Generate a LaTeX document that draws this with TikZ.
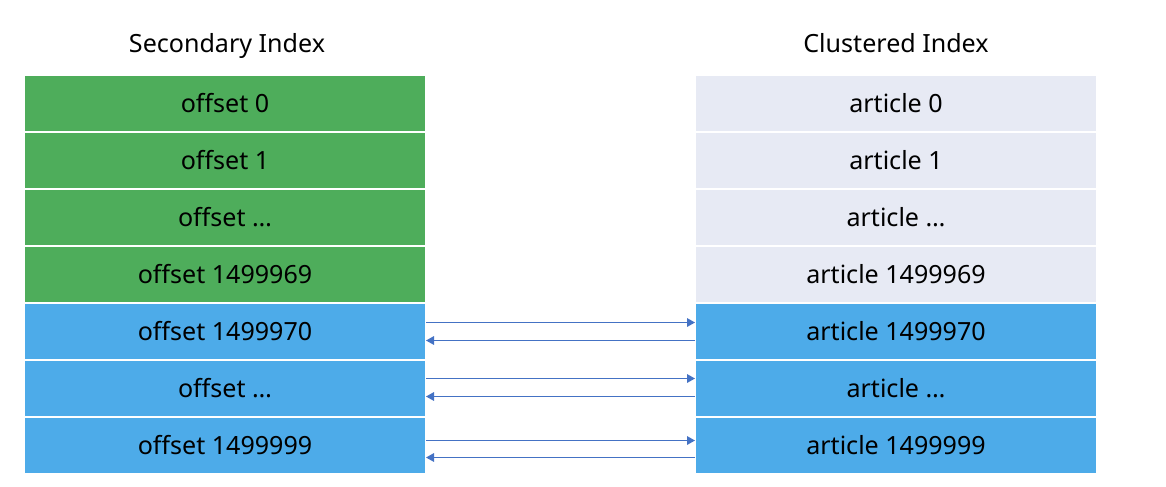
\documentclass[tikz,border=0pt]{standalone}
\usepackage{fontspec}
\setmainfont{Noto Sans}
\usepackage{tikz}
\usetikzlibrary{arrows.meta,positioning}

\definecolor{secgreen}{HTML}{4EAD5B}
\definecolor{rowblue}{HTML}{4DABE9}
\definecolor{artgray}{HTML}{E7EAF4}
\definecolor{linkblue}{HTML}{4472C4}

\begin{document}
\begin{tikzpicture}[x=0.75pt,y=-0.75pt,
    >={Triangle[length=6pt,width=6.5pt]},
    font=\fontsize{18.8}{22}\selectfont,
    cell/.style={draw=white,line width=0.75pt,minimum width=300.75pt,
      minimum height=42pt,inner sep=0pt,node distance=0pt},
    link/.style={->,linkblue,line width=0.8pt}]
  \useasboundingbox (0,0) rectangle (1166,486);
  % column titles
  \node[anchor=base] (sectitle) at (227,52) {Secondary Index};
  \node[anchor=base] (clutitle) at (896,52) {Clustered Index};
  % secondary index rows
  \node[cell,fill=secgreen] (s0) at (225,103.5) {offset 0};
  \node[cell,fill=secgreen,below=of s0] (s1) {offset 1};
  \node[cell,fill=secgreen,below=of s1] (s2) {offset \dots};
  \node[cell,fill=secgreen,below=of s2] (s3) {offset 1499969};
  \node[cell,fill=rowblue,below=of s3] (s4) {offset 1499970};
  \node[cell,fill=rowblue,below=of s4] (s5) {offset \dots};
  \node[cell,fill=rowblue,below=of s5] (s6) {offset 1499999};
  % clustered index rows
  \node[cell,fill=artgray] (c0) at (896,103.5) {article 0};
  \node[cell,fill=artgray,below=of c0] (c1) {article 1};
  \node[cell,fill=artgray,below=of c1] (c2) {article \dots};
  \node[cell,fill=artgray,below=of c2] (c3) {article 1499969};
  \node[cell,fill=rowblue,below=of c3] (c4) {article 1499970};
  \node[cell,fill=rowblue,below=of c4] (c5) {article \dots};
  \node[cell,fill=rowblue,below=of c5] (c6) {article 1499999};
  % links between the blue rows
  \foreach \i/\up/\dn in {4/6.75/-6.75,5/7.5/-6,6/3.75/-9}{
    \draw[link] ([yshift=\up pt]s\i.east) -- ([yshift=\up pt]c\i.west);
    \draw[link] ([yshift=\dn pt]c\i.west) -- ([yshift=\dn pt]s\i.east);
  }
\end{tikzpicture}
\end{document}
